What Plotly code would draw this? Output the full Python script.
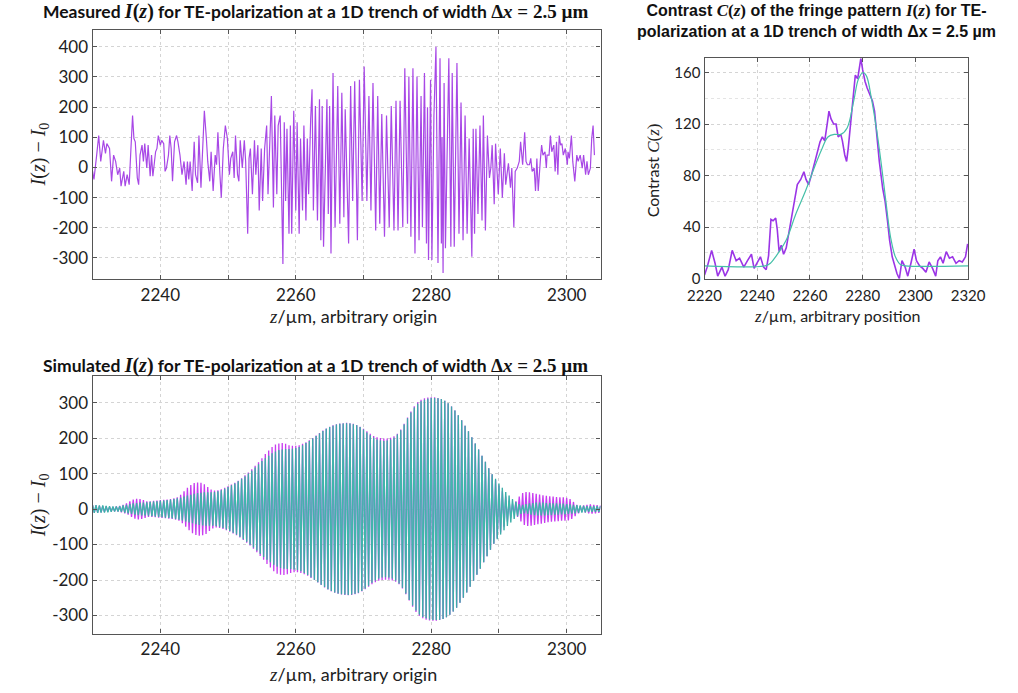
import plotly.graph_objects as go

# ---------------- Measured I(z) - I0 ----------------
meas_z = [
    2230.0, 2230.2, 2230.6, 2230.9, 2231.2, 2231.4, 2231.6, 2231.9, 2232.1, 2232.5,
    2232.8, 2233.1, 2233.4, 2233.7, 2234.0, 2234.2, 2234.6, 2234.8, 2235.1, 2235.4,
    2235.6, 2235.9, 2236.1, 2236.3, 2236.6, 2236.8, 2237.0, 2237.3, 2237.5, 2237.7,
    2238.0, 2238.2, 2238.5, 2238.7, 2238.9, 2239.3, 2239.5, 2239.7, 2240.0, 2240.2,
    2240.5, 2240.7, 2240.9, 2241.2, 2241.4, 2241.6, 2241.8, 2242.1, 2242.4, 2242.6,
    2242.9, 2243.2, 2243.5, 2243.8, 2244.0, 2244.2, 2244.4, 2244.7, 2245.0, 2245.2,
    2245.5, 2245.7, 2246.0, 2246.3, 2246.5, 2246.8, 2247.0, 2247.3, 2247.5, 2247.8,
    2248.1, 2248.3, 2248.5, 2248.8, 2249.0, 2249.3, 2249.6, 2249.9, 2250.2, 2250.4,
    2250.7, 2250.9, 2251.1, 2251.4, 2251.6, 2251.8, 2252.1, 2252.4, 2252.6, 2252.9,
    2253.1, 2253.3, 2253.6, 2253.9, 2254.1, 2254.4, 2254.6, 2254.9, 2255.1, 2255.4,
    2255.7, 2255.9, 2256.2, 2256.4, 2256.7, 2256.9, 2257.2, 2257.4, 2257.7, 2258.1,
    2258.3, 2258.5, 2258.7, 2259.0, 2259.2, 2259.4, 2259.7, 2260.0, 2260.2, 2260.5,
    2260.7, 2261.0, 2261.2, 2261.5, 2261.7, 2261.9, 2262.2, 2262.4, 2262.6, 2262.9,
    2263.2, 2263.5, 2263.7, 2263.9, 2264.1, 2264.4, 2264.6, 2264.8, 2265.0, 2265.2,
    2265.5, 2265.8, 2266.2, 2266.5, 2266.8, 2267.1, 2267.3, 2267.8, 2268.1, 2268.4,
    2268.7, 2269.1, 2269.4, 2269.8, 2270.1, 2270.5, 2270.8, 2271.1, 2271.4, 2271.8,
    2272.1, 2272.4, 2272.7, 2273.1, 2273.4, 2273.8, 2274.1, 2274.5, 2274.8, 2275.1,
    2275.4, 2275.8, 2276.1, 2276.5, 2276.7, 2277.0, 2277.3, 2277.6, 2277.9, 2278.2,
    2278.5, 2278.7, 2279.0, 2279.3, 2279.45, 2279.6, 2279.9, 2280.1, 2280.4, 2280.7,
    2281.0, 2281.3, 2281.5, 2281.6, 2281.75, 2281.9, 2282.1, 2282.6, 2282.9, 2283.1,
    2283.4, 2283.8, 2284.1, 2284.4, 2284.7, 2285.0, 2285.3, 2285.6, 2286.0, 2286.2,
    2286.4, 2286.6, 2286.9, 2287.2, 2287.5, 2287.7, 2288.0, 2288.3, 2288.6, 2288.8,
    2289.0, 2289.3, 2289.5, 2289.9, 2290.2, 2290.5, 2290.8, 2291.0, 2291.4, 2291.7,
    2291.9, 2292.2, 2292.4, 2292.7, 2293.0, 2293.2, 2293.5, 2293.8, 2294.0, 2294.2,
    2294.5, 2294.7, 2294.9, 2295.2, 2295.4, 2295.6, 2295.8, 2296.1, 2296.3, 2296.5,
    2296.8, 2297.0, 2297.1, 2297.4, 2297.6, 2297.8, 2298.1, 2298.3, 2298.5, 2298.7,
    2298.9, 2299.1, 2299.3, 2299.5, 2299.8, 2300.1, 2300.2, 2300.4, 2300.7, 2300.9,
    2301.2, 2301.5, 2301.7, 2302.0, 2302.3, 2302.5, 2302.8, 2303.0, 2303.2, 2303.5,
    2303.7, 2303.9, 2304.1,
]
meas_v = [
    -13, -40, 41, 106, 20, 52, 90, 47, 79, 63,
    -46, 41, 20, -24, -2, -62, -13, -62, -24, -57,
    41, 172, 96, 85, -35, -57, 41, 74, 20, 79,
    -2, 74, -29, 41, -29, 52, 63, 106, 74, 90,
    79, -13, -2, 41, 106, 63, -46, 85, 106, 85,
    41, -24, 20, -57, 20, -40, 20, -78, 85, -24,
    -51, 106, -67, 96, 188, 96, 20, -46, 52, -78,
    41, 9, 117, -24, -100, 63, 139, 96, -24, 30,
    52, -35, 106, -24, -46, 90, -2, 90, 20, -220,
    30, 63, -89, 90, -24, 74, -143, 63, -111, 63,
    139, -89, 150, 237, -133, 172, -89, 139, 172, -320,
    150, -111, 128, -220, 139, -220, 188, -143, 150, -220,
    96, -143, 139, -176, 96, -89, 161, 259, -143, 204,
    -176, 226, -241, 204, -263, 96, 226, -154, 204, -285,
    313, -198, 270, -187, 248, -165, 193, -252, 270, -111,
    286, -241, 291, -111, 335, -111, 237, -143, 280, -209,
    237, -187, 177, -230, 172, -198, 204, -209, 221, -209,
    221, -198, 329, -187, 302, -230, 329, -285, 302, -241,
    237, -198, 313, -252, 200, -307, 291, -307, 172, 400,
    -317, 362, -252, 100, -350, 280, -268, 362, -263, 313,
    -263, 346, -220, 215, -241, 172, -220, 96, -296, 128,
    -220, 128, -154, 139, -176, 172, -209, 106, -35, -2,
    74, -122, 79, -89, 63, -100, 47, -57, 14, -67,
    -2, -198, -13, -2, 20, 85, 9, 117, 20, 9,
    9, 30, -13, -2, -78, 30, -78, 20, 74, 41,
    52, -2, 41, 41, 106, 52, 74, -13, 85, -24,
    106, 74, 79, 41, 63, 9, 52, 30, 106, 20,
    -46, 41, 20, 41, -2, 41, -24, 20, -24, -2,
    96, 139, 41,
]

# ---------------- Contrast C(z) ----------------
con_z = [
    2220.0, 2221.0, 2222.7, 2224.0, 2225.0, 2226.6, 2227.8, 2229.0, 2230.5, 2232.0,
    2233.3, 2234.9, 2236.3, 2237.8, 2238.8, 2240.0, 2241.2, 2242.4, 2243.4, 2244.3,
    2245.2, 2246.0, 2247.0, 2247.6, 2248.3, 2249.1, 2250.0, 2251.0, 2252.2, 2253.4,
    2254.4, 2255.2, 2256.5, 2257.7, 2258.5, 2259.5, 2260.5, 2261.7, 2263.0, 2263.8,
    2264.7, 2265.6, 2266.6, 2267.2, 2268.0, 2269.0, 2269.9, 2270.7, 2271.7, 2272.3,
    2273.2, 2273.9, 2274.5, 2275.1, 2276.0, 2276.6, 2277.2, 2278.1, 2278.8, 2279.3,
    2280.0, 2280.9, 2281.7, 2282.7, 2283.7, 2284.5, 2285.4, 2286.3, 2287.6, 2288.5,
    2289.4, 2290.2, 2291.2, 2292.2, 2293.0, 2293.9, 2294.9, 2296.1, 2297.1, 2298.3,
    2299.5, 2300.4, 2301.6, 2302.8, 2304.0, 2305.2, 2306.5, 2307.7, 2308.5, 2309.5,
    2310.5, 2311.7, 2312.9, 2314.1, 2315.4, 2316.6, 2317.8, 2319.0, 2319.8,
]
con_v = [
    3, 9, 22, 12, 2, 9, 2, 7, 22, 14,
    16, 9, 14, 19, 8, 13, 17, 9, 7, 18,
    46, 45, 47, 38, 21, 26, 19, 24, 38, 53,
    63, 73, 77, 83, 77, 73, 80, 90, 101, 106,
    110, 107, 121, 130, 124, 120, 120, 110, 112, 107,
    96, 91, 101, 114, 130, 144, 158, 155, 163, 171,
    162, 153, 148, 143, 138, 130, 111, 91, 70, 60,
    45, 30, 17, 9, 4, 0, 14, 9, 2, 12,
    23, 14, 10, 8, 5, 13, 8, 2, 14, 17,
    12, 21, 16, 17, 12, 14, 13, 17, 27,
]
fit_z = [2220, 2243, 2245, 2247.3, 2251, 2254.6, 2258.3, 2262, 2264.4, 2266.8,
         2269.3, 2271.7, 2274.1, 2276.6, 2278.4, 2280.2, 2281.5, 2283.3, 2285.1,
         2287, 2288.8, 2290.6, 2292.4, 2294.3, 2296.1, 2320]
fit_v = [10, 10, 12, 18, 30, 50, 68, 88, 100, 110,
         112, 112, 117, 138, 155, 160, 157, 140, 118,
         90, 60, 32, 17, 11, 10, 10]

# ---------------- Simulated fringe amplitudes, one per fringe (0.5 um) ----------------
sim_z0 = 2230.0
sim_period = 0.5
sim_cyan_amp = [
    11, 11, 10, 10, 9, 8, 7, 7, 8, 10,
    12, 14, 16, 17, 18, 18, 19, 20, 21, 22,
    23, 24, 25, 26, 28, 30, 32, 35, 38, 40,
    43, 45, 46, 47, 47, 47, 48, 50, 53, 57,
    62, 67, 72, 78, 85, 92, 100, 108, 117, 126,
    135, 143, 150, 157, 162, 166, 168, 169, 169, 170,
    172, 175, 180, 186, 192, 199, 206, 213, 220, 226,
    231, 235, 238, 240, 241, 242, 241, 239, 236, 231,
    224, 216, 208, 201, 196, 193, 192, 193, 196, 201,
    210, 222, 238, 256, 272, 286, 297, 304, 308, 311,
    313, 313, 312, 310, 305, 298, 289, 278, 264, 250,
    235, 219, 202, 185, 168, 150, 133, 115, 98, 85,
    72, 60, 48, 38, 28, 20, 14, 12, 14, 16,
    17, 18, 18, 18, 17, 17, 16, 16, 15, 15,
    14, 13, 12, 11, 10, 9, 8, 8, 8, 8,
    8,
]
sim_mag_amp = [
    10, 10, 9, 8, 7, 6, 6, 7, 9, 12,
    16, 22, 27, 29, 28, 25, 22, 22, 23, 24,
    25, 26, 27, 28, 30, 33, 40, 50, 60, 68,
    73, 75, 74, 70, 62, 55, 52, 53, 56, 60,
    64, 69, 74, 80, 87, 95, 103, 112, 122, 132,
    143, 155, 165, 175, 182, 185, 186, 184, 180, 178,
    178, 180, 184, 188, 194, 200, 207, 214, 221, 227,
    232, 236, 239, 241, 242, 243, 242, 240, 237, 232,
    226, 219, 212, 206, 202, 200, 199, 199, 201, 205,
    212, 224, 240, 258, 275, 290, 301, 308, 312, 314,
    315, 315, 313, 310, 305, 298, 289, 278, 264, 250,
    235, 219, 202, 185, 168, 150, 133, 115, 98, 82,
    66, 50, 36, 24, 15, 22, 35, 45, 48, 47,
    45, 43, 41, 39, 37, 36, 35, 34, 33, 33,
    32, 28, 20, 12, 8, 10, 12, 13, 12, 11,
    10,
]

meas_ticks_x = [2240, 2260, 2280, 2300]
meas_minor_x = [2230, 2250, 2270, 2290]
meas_ticks_y = [-300, -200, -100, 0, 100, 200, 300, 400]
sim_ticks_y = [-300, -200, -100, 0, 100, 200, 300]
con_ticks_x = [2220, 2240, 2260, 2280, 2300, 2320]
con_ticks_y = [0, 40, 80, 120, 160]
con_minor_y = [20, 60, 100, 140]


def fringes(amps):
    zs, vs = [], []
    for k, a in enumerate(amps):
        z = sim_z0 + k * sim_period
        zs += [z, z + sim_period / 2]
        vs += [a, -a]
    return zs[:-1], vs[:-1]


W, H = 1018, 693
def px(x):
    return x / W
def py(y):
    return 1 - y / H

SERIF = "Liberation Serif"
SANS = "Lato"
GRID = "#d4d4d4"
FRAME = "#555555"

fig = go.Figure()

fig.add_trace(go.Scatter(x=meas_z, y=meas_v, mode="lines",
                         line=dict(color="#a848e6", width=1.2),
                         xaxis="x", yaxis="y", showlegend=False))

fig.add_trace(go.Scatter(x=con_z, y=con_v, mode="lines",
                         line=dict(color="#9b35e6", width=1.6),
                         xaxis="x2", yaxis="y2", showlegend=False))
fig.add_trace(go.Scatter(x=fit_z, y=fit_v, mode="lines", line_shape="spline",
                         line=dict(color="#45c0a8", width=1.2),
                         xaxis="x2", yaxis="y2", showlegend=False))

mz, mv = fringes(sim_mag_amp)
cz, cv = fringes(sim_cyan_amp)
fig.add_trace(go.Scatter(x=mz, y=mv, mode="lines",
                         line=dict(color="#c83cf0", width=1.3),
                         xaxis="x3", yaxis="y3", showlegend=False))
fig.add_trace(go.Scatter(x=cz, y=cv, mode="lines",
                         line=dict(color="#46c8b2", width=1.3),
                         xaxis="x3", yaxis="y3", showlegend=False))
fig.add_trace(go.Scatter(x=cz, y=cv, mode="lines",
                         line=dict(color="#2a5f8c", width=0.5),
                         xaxis="x3", yaxis="y3", showlegend=False, opacity=0.4))

axis_common = dict(showline=True, mirror="ticks", linecolor=FRAME, linewidth=1.3,
                   ticks="inside", ticklen=4, tickcolor=FRAME,
                   showgrid=True, gridcolor=GRID, griddash="dot", gridwidth=1,
                   zeroline=False, tickfont=dict(family=SANS, size=17, color="#222"))
con_axis = {**axis_common, "tickfont": dict(family=SANS, size=15, color="#222")}
minor_x = dict(tickvals=meas_minor_x, showgrid=True, gridcolor=GRID, griddash="dot",
               ticks="inside", ticklen=4, tickcolor=FRAME)

fig.update_layout(
    width=W, height=H, margin=dict(l=0, r=0, t=0, b=0),
    paper_bgcolor="white", plot_bgcolor="white", showlegend=False,
    xaxis=dict(**axis_common, domain=[px(78.3), px(604.3)], anchor="y",
               range=[2230, 2305], tickvals=meas_ticks_x,
               ticktext=[str(v) for v in meas_ticks_x], minor=minor_x),
    yaxis=dict(**axis_common, domain=[py(282.3), py(30)], anchor="x",
               range=[-370, 457], tickvals=meas_ticks_y,
               ticktext=[str(v) for v in meas_ticks_y]),
    xaxis3=dict(**axis_common, domain=[px(78.3), px(604.3)], anchor="y3",
                range=[2230, 2305], tickvals=meas_ticks_x,
                ticktext=[str(v) for v in meas_ticks_x], minor=minor_x),
    yaxis3=dict(**axis_common, domain=[py(641), py(380)], anchor="x3",
                range=[-351, 376], tickvals=sim_ticks_y,
                ticktext=[str(v) for v in sim_ticks_y]),
    xaxis2=dict(**con_axis, domain=[px(712), px(985)], anchor="y2",
                range=[2220, 2320], tickvals=con_ticks_x,
                ticktext=[str(v) for v in con_ticks_x], ticklabelstandoff=3),
    yaxis2=dict(**con_axis, domain=[py(282), py(59)], anchor="x2",
                range=[0, 171], tickvals=con_ticks_y,
                ticktext=[str(v) for v in con_ticks_y],
                minor=dict(tickvals=con_minor_y, showgrid=True,
                           gridcolor="#e4e4e4", griddash="dot", ticks="")),
)

def serif(s, size=None):
    st = f"font-family:'{SERIF}'"
    if size:
        st += f";font-size:{size}px"
    return f"<span style=\"{st}\">{s}</span>"

ann = []
title_font = dict(family=SANS, size=17.5, color="#111")
for text_start, yc in (("Measured ", 12), ("Simulated ", 370)):
    ann.append(dict(x=px(309), y=py(yc), xref="paper", yref="paper", showarrow=False,
                    xanchor="center", yanchor="middle", font=title_font,
                    text="<b>" + text_start + serif("<i>I</i>(<i>z</i>)", 20) +
                         " for TE-polarization at a 1D trench of width " +
                         serif("Δ<i>x</i> = 2.5 µm", 19) + "</b>"))
ann.append(dict(x=px(828), y=py(21), xref="paper", yref="paper", showarrow=False,
                xanchor="center", yanchor="middle",
                font=dict(family="Liberation Sans", size=16, color="#111"),
                text="<b>Contrast " + serif("<i>C</i>(<i>z</i>)", 17) +
                     " of the fringe pattern " + serif("<i>I</i>(<i>z</i>)", 17) +
                     " for TE-<br>polarization at a 1D trench of width Δx = 2.5 µm</b>"))

ylab = serif("<i>I</i>(<i>z</i>) − <i>I</i><sub>0</sub>")
for yc in (156, 511):
    ann.append(dict(x=px(23), y=py(yc), xref="paper", yref="paper", showarrow=False,
                    xanchor="center", yanchor="middle", textangle=-90,
                    font=dict(family=SERIF, size=20, color="#222"), text=ylab))
for yc in (320, 682):
    ann.append(dict(x=px(348), y=py(yc), xref="paper", yref="paper", showarrow=False,
                    xanchor="center", yanchor="middle",
                    font=dict(family=SANS, size=18, color="#222"),
                    text=serif("<i>z</i>", 19) + "/µm, arbitrary origin"))
ann.append(dict(x=px(850), y=py(320), xref="paper", yref="paper", showarrow=False,
                xanchor="center", yanchor="middle",
                font=dict(family=SANS, size=16, color="#222"),
                text=serif("<i>z</i>", 17) + "/µm, arbitrary position"))
ann.append(dict(x=px(659), y=py(172), xref="paper", yref="paper", showarrow=False,
                xanchor="center", yanchor="middle", textangle=-90,
                font=dict(family=SANS, size=16, color="#222"),
                text="Contrast " + serif("<i>C</i>(<i>z</i>)", 17)))
fig.update_layout(annotations=ann)

fig.write_html("out.html")
